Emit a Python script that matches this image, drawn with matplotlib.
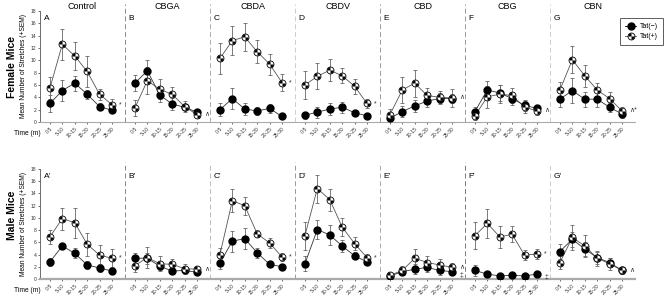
import numpy as np
import matplotlib
matplotlib.use("Agg")
import matplotlib.pyplot as plt
from matplotlib.path import Path
from matplotlib.lines import Line2D

plt.rcParams['font.family'] = ['Liberation Sans', 'DejaVu Sans']

drugs = ["Control", "CBGA", "CBDA", "CBDV", "CBD", "CBG", "CBN"]
bins = ["0-5", "5-10", "10-15", "15-20", "20-25", "25-30"]
female_labels = ["A", "B", "C", "D", "E", "F", "G"]
male_labels = ["A'", "B'", "C'", "D'", "E'", "F'", "G'"]

# female, Tat(-)
f_neg = [[3.0, 5.1, 6.3, 4.5, 2.5, 1.9],
         [6.3, 8.3, 4.4, 2.9, 2.4, 1.6],
         [2.0, 3.8, 2.1, 1.8, 2.2, 0.9],
         [1.1, 1.6, 2.1, 2.4, 1.5, 1.0],
         [0.6, 1.7, 2.6, 3.4, 3.8, 3.8],
         [1.7, 5.2, 4.7, 3.8, 2.7, 2.2],
         [3.7, 5.1, 3.7, 3.7, 2.4, 1.3]]
f_neg_err = [[1.4, 1.7, 1.2, 0.7, 0.5, 0.4],
             [1.3, 1.8, 1.2, 1.0, 0.5, 0.5],
             [1.1, 1.7, 0.9, 0.6, 0.7, 0.3],
             [0.6, 0.9, 0.9, 0.9, 0.5, 0.3],
             [0.5, 0.9, 0.9, 0.9, 0.9, 0.8],
             [0.8, 1.5, 1.3, 1.1, 0.9, 0.6],
             [1.2, 2.0, 1.2, 1.2, 0.7, 0.6]]
# female, Tat(+)
f_pos = [[5.5, 12.6, 10.7, 8.2, 4.5, 2.8],
         [2.3, 6.7, 5.3, 4.5, 2.5, 1.2],
         [10.3, 13.2, 13.8, 11.4, 9.4, 6.4],
         [6.0, 7.4, 8.4, 7.5, 5.8, 3.0],
         [1.2, 5.2, 6.3, 4.3, 4.0, 3.9],
         [1.0, 4.1, 4.5, 4.3, 2.4, 1.8],
         [5.2, 10.1, 7.5, 5.2, 3.8, 1.8]]
f_pos_err = [[1.8, 2.5, 2.3, 2.5, 0.9, 0.9],
             [1.3, 2.2, 1.6, 1.2, 0.9, 0.5],
             [2.5, 2.4, 2.3, 1.9, 1.7, 1.4],
             [2.2, 2.1, 1.8, 1.2, 1.2, 0.8],
             [0.9, 2.1, 2.2, 1.2, 1.0, 1.4],
             [0.7, 1.8, 1.5, 1.2, 1.0, 0.7],
             [1.3, 2.2, 1.8, 1.1, 1.1, 0.6]]
# male, Tat(-)
m_neg = [[2.8, 5.4, 4.2, 2.3, 1.8, 1.3],
         [3.4, 3.4, 2.1, 1.3, 1.4, 1.1],
         [2.6, 6.2, 6.6, 4.3, 2.4, 2.0],
         [2.5, 8.1, 7.2, 5.4, 3.8, 2.8],
         [0.5, 1.2, 1.6, 1.9, 1.4, 1.2],
         [1.4, 0.8, 0.5, 0.6, 0.5, 0.8],
         [4.5, 6.5, 4.9, 3.5, 2.7, 1.4]]
m_neg_err = [[0.7, 0.5, 0.8, 0.6, 0.6, 0.4],
             [0.9, 0.9, 0.6, 0.5, 0.5, 0.5],
             [0.9, 1.7, 1.7, 0.8, 0.5, 0.3],
             [1.2, 1.6, 1.6, 1.0, 0.6, 0.5],
             [0.3, 0.6, 0.8, 0.8, 0.7, 0.5],
             [0.9, 0.4, 0.2, 0.2, 0.2, 0.3],
             [1.2, 1.2, 1.1, 1.0, 0.8, 0.5]]
# male, Tat(+)
m_pos = [[6.9, 9.9, 9.2, 5.7, 3.9, 3.4],
         [2.2, 3.5, 2.5, 2.4, 1.7, 1.6],
         [4.0, 12.8, 12.0, 7.4, 5.9, 3.6],
         [7.1, 14.8, 13.0, 8.5, 5.8, 3.5],
         [0.6, 1.4, 3.4, 2.7, 2.3, 1.9],
         [7.1, 9.1, 6.9, 7.3, 3.9, 4.1],
         [2.7, 6.8, 5.4, 3.4, 2.5, 1.4]]
m_pos_err = [[1.1, 1.8, 2.5, 1.9, 1.6, 1.5],
             [1.1, 1.7, 1.2, 0.9, 0.7, 0.6],
             [1.1, 1.9, 1.5, 0.6, 0.8, 0.7],
             [2.3, 2.3, 1.8, 1.5, 1.0, 0.6],
             [0.4, 0.7, 1.5, 1.1, 0.9, 0.8],
             [2.2, 2.4, 1.8, 1.3, 0.8, 0.8],
             [1.1, 2.1, 1.8, 1.2, 1.0, 0.5]]

# significance marks next to the last bin (Tat(+) mark, Tat(-) mark)
f_marks = [("*", ""), ("\u2227", ""), ("*", ""), ("*", ""), ("\u2227", ""), ("\u2227", ""), ("\u2227*", "")]
m_marks = [("*", ""), ("\u2227", ""), ("*", ""), ("*", ""), ("\u2227", "\u2021"), ("*", "\u2021"), ("\u2227", "")]

W = 6.85      # width of one drug block in x units
OFF = 0.8
quad = Path.make_compound_path(Path.wedge(90, 180), Path.wedge(270, 360))

fig = plt.figure(figsize=(6.67, 2.99), dpi=100)
ax_f = fig.add_axes([40/667, 1-122/299, 595/667, 111/299])
ax_m = fig.add_axes([40/667, 1-279/299, 595/667, 110/299])

dash_cols = [["#888888", "#aaaaaa", "#cccccc", "#999999", "#999999", "#cccccc"],
             ["#888888", "#bbbbbb", "#999999", "#aaaaaa", "#777777", "#cccccc"]]


def draw_row(ax, neg, neg_err, pos, pos_err, labels, marks, dcols, xlw):
    xt = []
    for g in range(7):
        x = g*W + OFF + np.arange(6)
        xt.extend(x)
        ax.errorbar(x, pos[g], yerr=pos_err[g], fmt='none', ecolor='#666666',
                    elinewidth=0.6, capsize=1.6, capthick=0.6, zorder=2)
        ax.errorbar(x, neg[g], yerr=neg_err[g], fmt='none', ecolor='#666666',
                    elinewidth=0.6, capsize=1.6, capthick=0.6, zorder=2)
        ax.plot(x, pos[g], '-', color='#555555', lw=0.6, zorder=3)
        ax.plot(x, neg[g], '-', color='#333333', lw=0.6, zorder=3)
        ax.plot(x, neg[g], 'o', color='black', ms=5, zorder=4)
        ax.plot(x, pos[g], 'o', mfc='white', mec='black', mew=0.6, ms=5, zorder=5)
        ax.plot(x, pos[g], ls='none', marker=quad, color='black', ms=4.6, mew=0, zorder=6)
        ax.text(g*W + 0.3, 17.3, labels[g], fontsize=6, va='top', ha='left')
        mp, mn = marks[g]
        if mp:
            ax.text(x[-1] + 0.6, pos[g][-1], mp, fontsize=5, va='center', ha='left', color='#333333')
        if mn:
            ax.text(x[-1] + 0.6, neg[g][-1] - 0.6, mn, fontsize=5, va='center', ha='left', color='#333333')
        if g > 0:
            ax.plot([g*W, g*W], [0, 1.06], transform=ax.get_xaxis_transform(),
                    ls=(0, (5, 3)), lw=0.7, color=dcols[g-1], clip_on=False)
    ax.set_xlim(0, 7*W)
    ax.set_ylim(0, 18)
    ax.set_yticks(np.arange(0, 19, 2))
    ax.set_xticks(xt)
    ax.set_xticklabels(bins*7, rotation=45, ha='right', rotation_mode='anchor')
    ax.tick_params(axis='both', labelsize=3.6, length=1.5, width=0.5, pad=1, colors='#333333')
    ax.tick_params(axis='x', pad=1.5)
    for s in ['top', 'right']:
        ax.spines[s].set_visible(False)
    ax.spines['left'].set_color('#555555')
    ax.spines['left'].set_linewidth(0.6)
    ax.spines['bottom'].set_color('#aaaaaa')
    ax.spines['bottom'].set_linewidth(xlw)
    ax.set_ylabel("Mean Number of Stretches (+SEM)", fontsize=4.8, labelpad=3)
    ax.text(-0.043, -0.1, "Time (m)", transform=ax.transAxes, fontsize=4.8, ha='left', va='center')


draw_row(ax_f, f_neg, f_neg_err, f_pos, f_pos_err, female_labels, f_marks, dash_cols[0], 0.8)
draw_row(ax_m, m_neg, m_neg_err, m_pos, m_pos_err, male_labels, m_marks, dash_cols[1], 1.6)

for g, d in enumerate(drugs):
    ax_f.text(g*W + W/2, 1.02, d, transform=ax_f.get_xaxis_transform(),
              fontsize=6.5, ha='center', va='baseline')

fig.text(12/667, 1-67/299, "Female Mice", rotation=90, fontsize=7.5, fontweight='bold',
         ha='center', va='center')
fig.text(12/667, 1-215/299, "Male Mice", rotation=90, fontsize=7.5, fontweight='bold',
         ha='center', va='center')

h_neg = Line2D([], [], color='black', marker='o', ms=5, lw=0.6)
h_pos_bg = Line2D([], [], color='#555555', marker='o', mfc='white', mec='black', mew=0.6, ms=5, lw=0.6)
h_pos_q = Line2D([], [], ls='none', marker=quad, color='black', ms=4.6, mew=0)
leg = fig.legend([h_neg, (h_pos_bg, h_pos_q)], ["Tat(\u2212)", "Tat(+)"],
                 loc='upper right', bbox_to_anchor=(0.999, 1-15/299), fontsize=5,
                 frameon=True, fancybox=False, edgecolor='#333333', handlelength=1.6,
                 borderpad=0.7, labelspacing=0.45, handletextpad=0.5)
leg.get_frame().set_linewidth(0.7)

fig.savefig("out.png", dpi=100)
